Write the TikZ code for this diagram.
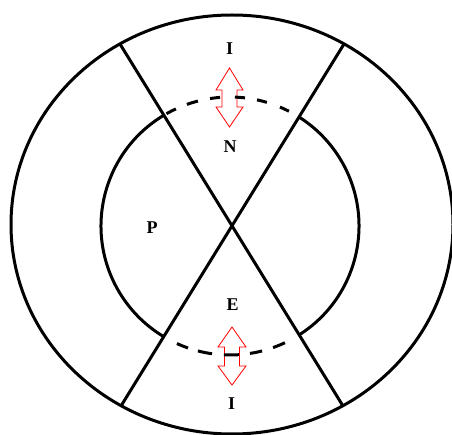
\documentclass[tikz,border=0pt]{standalone}
\usepackage{fontspec}
\setmainfont{Liberation Serif}
\usetikzlibrary{calc}
\begin{document}
\begin{tikzpicture}[x=1pt,y=1pt,
  ring/.style={line width=3pt},
  updown/.style={draw=red, fill=white, line width=0.8pt, line join=miter},
  lbl/.style={font=\fontsize{18}{20}\selectfont\bfseries, inner sep=0pt, anchor=center}]
\path[use as bounding box] (0,0) rectangle (452,434);
\clip (0,0) rectangle (452,434);
\coordinate (C) at (230,208);
\coordinate (A1) at (120,390);
\coordinate (A2) at (343,28);
\coordinate (B1) at (344,390);
\coordinate (B2) at (121,28);
% outer ring
\draw[ring] (232,209.5) ellipse [x radius=221, y radius=209.5];
% crossing lines
\draw[ring] (A1) -- (A2);
\draw[ring] (B1) -- (B2);
% double arrows
\draw[updown] (229.5,366) -- (243,344) -- (237,344) -- (237,327) -- (243,327) -- (229.5,307)
  -- (216,327) -- (222,327) -- (222,344) -- (216,344) -- cycle;
\draw[updown] (232,107) -- (246,87) -- (239.5,87) -- (239.5,68) -- (246,68) -- (232,49)
  -- (218,68) -- (224.5,68) -- (224.5,87) -- (218,87) -- cycle;
% inner circle: solid arcs
\draw[ring] ($(C)+(120.8:129)$) arc[start angle=120.8, end angle=239.2, radius=129];
\draw[ring] ($(C)+(-57.7:129)$) arc[start angle=-57.7, end angle=57.7, radius=129];
% dashed parts, one dash at a time
\foreach \a/\b in {119.5/114.8, 109.5/104.4, 98.9/94.4, 87.8/83.3, 77.9/73.4, 67.2/62.8,
                   245.7/251.0, 255.6/262.0, 267.3/274.0, 278.9/284.4, 289.5/295.2}
  \draw[ring] ($(C)+(\a:129)$) arc[start angle=\a, end angle=\b, radius=129];
% labels
\node[lbl] (itop) at (229.5,385.5) {I};
\node[lbl] (n) at (230,287.3) {N};
\node[lbl] (p) at (152,206) {P};
\node[lbl] (e) at (232.5,129.3) {E};
\node[lbl] (ibot) at (231.7,30.7) {I};
\end{tikzpicture}
\end{document}
